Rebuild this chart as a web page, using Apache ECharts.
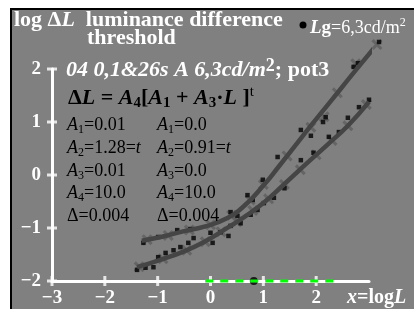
<!DOCTYPE html>
<html>
<head>
<meta charset="utf-8">
<script src="https://cdn.jsdelivr.net/npm/echarts@6/dist/echarts.min.js"></script>
<style>
html, body { margin: 0; padding: 0; background: #fff; }
#chart { width: 414px; height: 309px; }
</style>
</head>
<body>
<div id="chart"></div>
<script>
// fitted curves (log L, log dL)
var upperLine = [[-1.3, -1.24], [-0.9, -1.16], [-0.5, -1.06], [-0.1, -0.97], [0.3, -0.82], [0.63, -0.59],
  [1.0, -0.2], [1.3, 0.17], [1.6, 0.55], [1.9, 0.93], [2.2, 1.3], [2.5, 1.67], [2.8, 2.04], [3.19, 2.51]];
var lowerLine = [[-1.39, -1.74], [-0.95, -1.6], [-0.5, -1.44], [-0.1, -1.25], [0.25, -1.04], [0.63, -0.8],
  [1.0, -0.53], [1.4, -0.17], [1.8, 0.2], [2.2, 0.56], [2.6, 0.93], [3.0, 1.38]];

// measured points
var upperCross = [[-1.2, -1.22], [-0.8, -1.14], [-0.4, -1.04], [0.0, -0.94], [0.4, -0.76], [0.75, -0.47],
  [1.0, -0.18], [1.45, 0.36], [1.9, 0.9], [2.15, 1.1], [2.4, 1.55], [2.75, 2.1], [3.15, 2.46]];
var upperDots = [[-1.27, -1.28], [-0.99, -1.17], [-0.63, -1.04], [-0.38, -1.02], [0.38, -0.7], [0.51, -0.77],
  [0.7, -0.38], [0.8, -0.47], [0.99, -0.09], [1.27, 0.34], [1.71, 0.85], [1.9, 0.74], [2.13, 1.0], [2.18, 1.09],
  [2.71, 2.04], [2.79, 2.11], [3.19, 2.51]];
var lowerCross = [[-1.35, -1.73], [-0.9, -1.58], [-0.45, -1.42], [-0.1, -1.26], [0.2, -1.07], [0.5, -0.88],
  [0.8, -0.67], [1.1, -0.45], [1.4, -0.18], [1.7, 0.1], [2.0, 0.38], [2.3, 0.65], [2.6, 0.93], [2.95, 1.33]];
var lowerDots = [[-1.39, -1.79], [-1.23, -1.75], [-1.08, -1.74], [-0.99, -1.55], [-0.85, -1.47], [-0.7, -1.42],
  [-0.57, -1.36], [-0.42, -1.28], [-0.32, -1.19], [0.0, -1.09], [0.04, -1.28], [0.19, -1.08], [0.34, -1.15],
  [0.38, -0.96], [0.57, -0.91], [0.76, -0.75], [0.89, -0.66], [1.01, -0.53], [1.2, -0.43], [1.4, -0.25],
  [1.71, 0.28], [1.95, 0.42], [2.24, 0.72], [2.43, 0.81], [2.6, 1.08], [2.81, 1.28], [3.0, 1.42]];

var xTicks = [-3, -2, -1, 0, 1, 2];
var yTicks = [-2, -1, 0, 1, 2];
var greenRange = [[-0.1, -2], [2.35, -2]];
var adaptPoint = [[0.82, -2]];

var serif = '"Liberation Serif", "DejaVu Serif", serif';
var crossPath = 'path://M0,2L2,0L5,3L8,0L10,2L7,5L10,8L8,10L5,7L2,10L0,8L3,5Z';

function st(size, color, weight, italic, extra) {
  var o = { fontFamily: serif, fontSize: size, fill: color, fontWeight: weight || 'normal',
    fontStyle: italic ? 'italic' : 'normal' };
  for (var k in extra) o[k] = extra[k];
  return o;
}
function txt(x, y, text, rich) {
  return { type: 'text', x: x, y: y, z: 100, style: { text: text, rich: rich, verticalAlign: 'middle' } };
}

var W = '#fff', K = '#000';
var paramRich = {
  n: st(18, K, 'normal', false, { lineHeight: 22 }),
  i: st(18, K, 'normal', true, { lineHeight: 22 }),
  s: st(12, K, 'normal', false, { lineHeight: 11, verticalAlign: 'bottom' })
};
var col1 = ['{i|A}{s|1}{n|=0.01}', '{i|A}{s|2}{n|=1.28=}{i|t}', '{i|A}{s|3}{n|=0.01}', '{i|A}{s|4}{n|=10.0}', '{n|Δ=0.004}'];
var col2 = ['{i|A}{s|1}{n|=0.0}', '{i|A}{s|2}{n|=0.91=}{i|t}', '{i|A}{s|3}{n|=0.0}', '{i|A}{s|4}{n|=10.0}', '{n|Δ=0.004}'];
var rowY = [125, 148, 171, 193, 216];

var graphics = [
  { type: 'rect', shape: { x: 11, y: 9, width: 410, height: 310 }, style: { fill: '#808080', stroke: '#000', lineWidth: 2 }, z: -10 },
  txt(14, 20, '{b|log Δ}{bi|L}{b|  luminance difference}', {
    b: st(22, W, 'bold'), bi: st(22, W, 'bold', true)
  }),
  txt(87, 38, '{b|threshold}', { b: st(22, W, 'bold') }),
  txt(310, 28, '{bi|L}{b|g}{n|=6,3cd/m}{sp|2}', {
    bi: st(19, W, 'bold', true, { lineHeight: 22 }), b: st(19, W, 'bold', false, { lineHeight: 22 }),
    n: st(18, W, 'normal', false, { lineHeight: 22 }), sp: st(12, W, 'normal', false, { lineHeight: 10, verticalAlign: 'top' })
  }),
  txt(66, 70, '{bi|04 0,1&26s A 6,3cd/m}{sp|2}{b|; pot3}', {
    bi: st(22, W, 'bold', true, { lineHeight: 26 }), b: st(22, W, 'bold', false, { lineHeight: 26 }),
    sp: st(18, W, 'bold', false, { lineHeight: 14, verticalAlign: 'top' })
  }),
  txt(68, 98, '{b|Δ}{bi|L}{b| = }{bi|A}{s|4}{b|[}{bi|A}{s|1}{b| + }{bi|A}{s|3}{b|·}{bi|L}{b| ]}{sp|t}', {
    b: st(22, K, 'bold', false, { lineHeight: 26 }), bi: st(22, K, 'bold', true, { lineHeight: 26 }),
    s: st(15, K, 'bold', false, { lineHeight: 13, verticalAlign: 'bottom' }),
    sp: st(15, K, 'normal', false, { lineHeight: 13, verticalAlign: 'top' })
  }),
  txt(347, 298, '{i|x}{b|=log}{bi|L}', {
    i: st(20, W, 'bold', true), b: st(20, W, 'bold'), bi: st(20, W, 'bold', true)
  }),
  { type: 'circle', shape: { cx: 303, cy: 25, r: 3.5 }, style: { fill: '#000' }, z: 100 }
];
for (var r = 0; r < 5; r++) {
  graphics.push(txt(67, rowY[r], col1[r], paramRich));
  graphics.push(txt(157, rowY[r], col2[r], paramRich));
}

var chart = echarts.init(document.getElementById('chart'));
var minus = function (v) { return v === 3 ? '' : String(v).replace('-', '\u2212'); };
var curveStyle = { color: '#454545', width: 4.5 };

chart.setOption({
  backgroundColor: '#fff',
  animation: false,
  graphic: graphics,
  grid: { left: 52, right: 45, top: 69, bottom: 28 },
  xAxis: {
    type: 'value', min: -3, max: 3, interval: 1,
    axisLine: { onZero: false, lineStyle: { color: W, width: 3 } },
    axisTick: { show: false }, splitLine: { show: false },
    axisLabel: { formatter: minus, color: W, fontFamily: serif, fontWeight: 'bold', fontSize: 19, margin: 8 }
  },
  yAxis: {
    type: 'value', min: -2, max: 2, interval: 1,
    axisLine: { onZero: false, lineStyle: { color: W, width: 3 } },
    axisTick: { show: false }, splitLine: { show: false },
    axisLabel: { formatter: minus, color: W, fontFamily: serif, fontWeight: 'bold', fontSize: 19, margin: 11 }
  },
  series: [
    { type: 'line', data: upperLine, smooth: true, symbol: 'none', clip: false, lineStyle: curveStyle },
    { type: 'line', data: lowerLine, smooth: true, symbol: 'none', clip: false, lineStyle: curveStyle },
    { type: 'scatter', data: upperCross, symbol: crossPath, symbolSize: 11, clip: false, itemStyle: { color: '#5e5e5e' } },
    { type: 'scatter', data: lowerCross, symbol: crossPath, symbolSize: 11, clip: false, itemStyle: { color: '#5e5e5e' } },
    { type: 'scatter', data: upperDots, symbol: 'rect', symbolSize: 4.5, clip: false, itemStyle: { color: '#000' } },
    { type: 'scatter', data: lowerDots, symbol: 'rect', symbolSize: 4.5, clip: false, itemStyle: { color: '#000' } },
    { type: 'line', data: greenRange, symbol: 'none', clip: false, lineStyle: { color: '#00ff00', width: 3, type: [8, 7] } },
    { type: 'scatter', data: xTicks.map(function (v) { return [v, -2]; }), symbol: 'rect', symbolSize: [3, 10], clip: false, itemStyle: { color: W } },
    { type: 'scatter', data: yTicks.map(function (v) { return [-3, v]; }), symbol: 'rect', symbolSize: [10, 3], clip: false, itemStyle: { color: W } },
    { type: 'scatter', data: adaptPoint, symbol: 'circle', symbolSize: 8, clip: false, itemStyle: { color: '#000' } }
  ]
});
</script>
</body>
</html>
